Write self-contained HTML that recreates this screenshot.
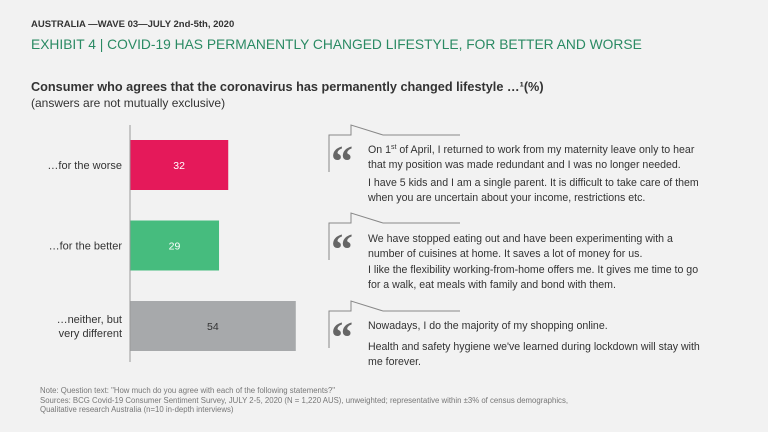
<!DOCTYPE html>
<html><head><meta charset="utf-8"><style>
body{margin:0;background:#f2f2f2;font-family:"Liberation Sans",sans-serif;}
#root{position:relative;width:768px;height:432px;overflow:hidden;background:#f2f2f2;}
.t{position:absolute;white-space:nowrap;}
.q{position:absolute;left:368px;font-size:10.6px;color:#333;line-height:15px;white-space:nowrap;}
sup{font-size:7px;line-height:0;vertical-align:4px;}
</style></head><body>
<div id="root">
<div class="t" style="left:31px;top:19px;font-size:9.5px;font-weight:bold;color:#333">AUSTRALIA —WAVE 03—JULY 2nd-5th, 2020</div>
<div class="t" style="left:31px;top:37px;font-size:13.8px;color:#2a8a63">EXHIBIT 4 | COVID-19 HAS PERMANENTLY CHANGED LIFESTYLE, FOR BETTER AND WORSE</div>
<div class="t" style="left:31px;top:80px;font-size:12.7px;font-weight:bold;color:#333">Consumer who agrees that the coronavirus has permanently changed lifestyle …¹(%)</div>
<div class="t" style="left:31px;top:96px;font-size:12px;color:#333">(answers are not mutually exclusive)</div>
<svg id="chart" width="768" height="432" style="position:absolute;left:0;top:0"></svg>
<div class="q" style="top:143px">On 1<sup>st</sup> of April, I returned to work from my maternity leave only to hear<br>that my position was made redundant and I was no longer needed.</div>
<div class="q" style="top:176px">I have 5 kids and I am a single parent. It is difficult to take care of them<br>when you are uncertain about your income, restrictions etc.</div>
<div class="q" style="top:232px">We have stopped eating out and have been experimenting with a<br>number of cuisines at home. It saves a lot of money for us.</div>
<div class="q" style="top:263px">I like the flexibility working-from-home offers me. It gives me time to go<br>for a walk, eat meals with family and bond with them.</div>
<div class="q" style="top:319px">Nowadays, I do the majority of my shopping online.</div>
<div class="q" style="top:340px">Health and safety hygiene we've learned during lockdown will stay with<br>me forever.</div>
<div class="t" style="left:40px;top:386px;font-size:7.8px;color:#777;line-height:9.5px">Note: Question text: "How much do you agree with each of the following statements?"<br>Sources: BCG Covid-19 Consumer Sentiment Survey, JULY 2-5, 2020 (N = 1,220 AUS), unweighted; representative within ±3% of census demographics,<br>Qualitative research Australia (n=10 in-depth interviews)</div>
</div>
<script>
const categories=["…for the worse","…for the better","…neither, but|very different"];
const values=[32,29,54];
const colors=["#e5195a","#46bc7e","#a7a9ab"];
const labelColors=["#ffffff","#ffffff","#333333"];
const NS="http://www.w3.org/2000/svg";
const svg=document.getElementById('chart');
const x0=130,scale=3.07,y0=140,step=80.5,bh=50;
function xs(v){return x0+v*scale;}
function ys(i){return y0+i*step;}
function mk(t,a){const e=document.createElementNS(NS,t);for(const k in a)e.setAttribute(k,a[k]);svg.appendChild(e);return e;}
values.forEach((v,i)=>{
 const r=mk('rect',{x:x0,y:ys(i),width:xs(v)-x0,height:bh,fill:colors[i]});
 
 
 const t=mk('text',{x:(x0+xs(v))/2,y:ys(i)+bh/2+4,'text-anchor':'middle','font-size':'10.5',fill:labelColors[i],'font-family':'Liberation Sans, sans-serif'});
 t.textContent=v;
 
 
 const lines=categories[i].split('|');
 lines.forEach((l,j)=>{
  const c=mk('text',{x:x0-8,y:ys(i)+bh/2+4+(j-(lines.length-1)/2)*14,'text-anchor':'end','font-size':'11',fill:'#333','font-family':'Liberation Sans, sans-serif'});
  c.textContent=l;
  
  
 });
});
const ax=mk('line',{x1:x0,y1:125,x2:x0,y2:362,stroke:'#999','stroke-width':1});


[125,213,301].forEach((ty,i)=>{
 const p=mk('path',{d:`M329 ${ty+47} V${ty+10} H351 V${ty} L383 ${ty+10} H460`,fill:'none',stroke:'#888','stroke-width':1});
 
 
 const q=mk('text',{x:331,y:ty+51,'font-size':'44','font-weight':'bold',fill:'#666','font-family':'Liberation Serif, serif'});
 q.textContent='\u201C';
 
 
});
</script>
</body></html>
